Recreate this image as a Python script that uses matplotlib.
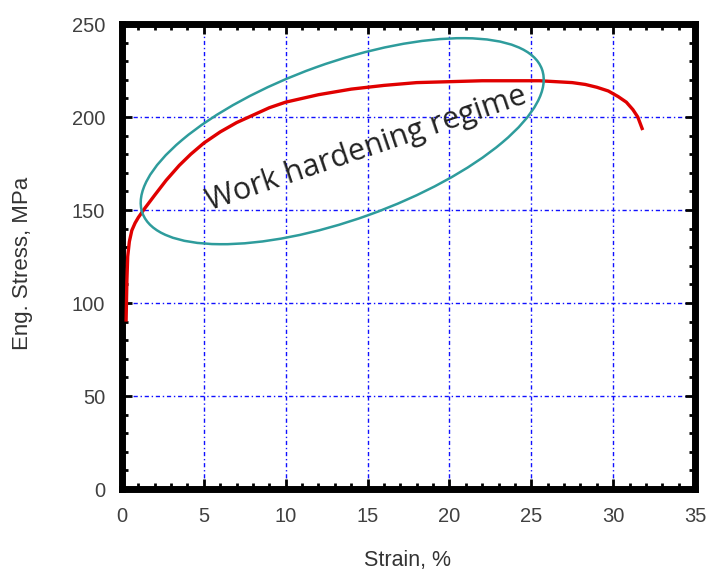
import matplotlib
matplotlib.use("Agg")
import matplotlib.pyplot as plt
from matplotlib.patches import Ellipse
from matplotlib.transforms import ScaledTranslation
from matplotlib.ticker import MultipleLocator

strain = [0.25, 0.3, 0.35, 0.45, 0.6, 0.8, 1.0, 1.4, 2.0, 2.7, 3.5, 4.2, 5.0, 6.0, 7.0,
          8.0, 9.0, 10.0, 12.0, 14.0, 16.0, 18.0, 20.0, 22.0, 24.0, 25.5, 26.5, 27.5,
          28.3, 29.0, 29.7, 30.3, 30.8, 31.2, 31.5, 31.8]
stress = [90, 112, 125, 133, 139, 143, 146, 151, 158, 166, 174, 180, 186, 192, 197,
          201, 205, 208, 212, 215, 217, 218.5, 219, 219.5, 219.5, 219.5, 219, 218.5,
          217.5, 216, 214, 211, 208, 204, 200, 193]

x_ticks = [0, 5, 10, 15, 20, 25, 30, 35]
y_ticks = [0, 50, 100, 150, 200, 250]
annot_text = "Work hardening regime"

fig = plt.figure(figsize=(7.1, 5.72), dpi=100)
ax = fig.add_axes([0.1718, 0.1451, 0.979 - 0.1718, 0.958 - 0.1451])

ax.plot(strain, stress, color="#e00000", lw=2.4, solid_capstyle="butt", zorder=3)

ax.set_xlim(0, 35)
ax.set_ylim(0, 250)
ax.set_xticks(x_ticks)
ax.set_yticks(y_ticks)
ax.xaxis.set_minor_locator(MultipleLocator(1))
ax.yaxis.set_minor_locator(MultipleLocator(10))

ax.grid(True, which="major", color="#1010ff", lw=1.0, linestyle=(0, (3, 2, 1, 2)))
ax.set_axisbelow(True)

for s in ax.spines.values():
    s.set_linewidth(5)
    s.set_color("black")

tick_col = "#404040"
ax.tick_params(which="both", direction="in", top=True, right=True, color="black")
ax.tick_params(which="major", length=7, width=2)
ax.tick_params(which="minor", length=4, width=2)
ax.tick_params(axis="x", which="major", pad=13, labelsize=14.5, labelcolor=tick_col)
ax.tick_params(axis="y", which="major", pad=12, labelsize=14.5, labelcolor=tick_col)
for lab in ax.get_xticklabels() + ax.get_yticklabels():
    lab.set_fontfamily("Liberation Sans")

ax.set_xlabel("Strain, %", fontsize=15.5, color="#333333", family="Liberation Sans")
ax.set_ylabel("Eng. Stress, MPa", fontsize=16, color="#333333", family="Liberation Sans")
ax.xaxis.set_label_coords(0.498, -0.131)
ax.yaxis.set_label_coords(-0.155, 0.486)

# ellipse annotation (size in inches, centred in data coords)
ell = Ellipse((0, 0), 4.246, 1.568, angle=19.8, fill=False, edgecolor="#2e9c9c", lw=1.8,
              transform=fig.dpi_scale_trans + ScaledTranslation(13.45, 187, ax.transData),
              zorder=4)
ax.add_patch(ell)

ax.text(14.9, 183, annot_text, rotation=18.7, rotation_mode="anchor", ha="center", va="center",
        fontsize=22, color="#222222", family="Open Sans", zorder=5)

fig.savefig("out.png", dpi=100)
